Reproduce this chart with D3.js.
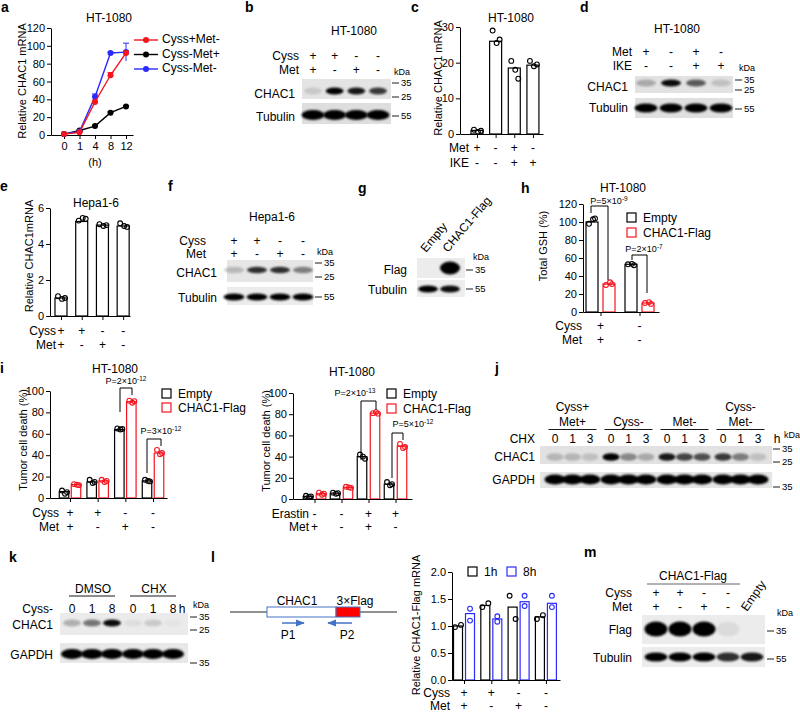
<!DOCTYPE html>
<html><head><meta charset="utf-8">
<script src="https://cdn.jsdelivr.net/npm/d3@7"></script>
<style>body{margin:0;background:#fff}svg{display:block}</style>
</head><body>
<script>
// ================= DATA =================
// a: time course
const aTimes = ["0","1","4","8","12"];
const aNames = ["Cyss+Met-","Cyss-Met+","Cyss-Met-"];
const aRed = [1, 3, 37, 67, 92];
const aRedErr = [0.5, 0.5, 2, 3, 2];
const aBlack = [1, 5, 10, 25, 32];
const aBlackErr = [0.5, 0.5, 1, 1, 1];
const aBlue = [1, 4, 43, 92, 93];
const aBlueErr = [0.5, 0.5, 3, 1, 10];
// b: blot
const bCyss = ["+","+","-","-"];
const bMet = ["+","-","+","-"];
const bCHAC1 = [0.12, 1.0, 0.9, 0.75];
const bTubulin = [1, 1, 1, 1];
// c
const cMet = ["+","-","+","-"];
const cIKE = ["-","-","+","+"];
const cMeans = [1, 26, 18.5, 19.3];
const cPts = [[1.2, 0.6, 0.9], [29, 25.5, 26.5], [20.5, 18, 15.5], [20.5, 19, 19.5]];
// d: blot
const dMet = ["+","-","+","-"];
const dIKE = ["-","-","+","+"];
const dCHAC1 = [0.25, 0.95, 0.6, 0.15];
const dTubulin = [1, 1, 1, 1];
// e
const eCyss = ["+","+","-","-"];
const eMet = ["+","-","+","-"];
const eMeans = [1.0, 5.25, 5.05, 5.0];
const ePts = [[1.1, 0.95, 1.0], [5.3, 5.45, 5.4], [5.1, 5.0, 5.05], [5.15, 5.0, 4.95]];
// f: blot
const fCyss = ["+","+","-","-"];
const fMet = ["+","-","+","-"];
const fCHAC1 = [0.2, 0.8, 0.8, 0.45];
const fTubulin = [1, 1, 1, 1];
// g: blot
const gLanes = ["Empty","CHAC1-Flag"];
const gFlag = [0, 1];
const gTubulin = [1, 0.95];
// h
const hCyss = ["+","-"];
const hMet = ["+","-"];
const hEmpty = [100, 53];
const hCHAC1 = [31, 10];
const hEmptyPts = [[98, 103, 104], [53, 53.5, 52]];
const hCHAC1Pts = [[30, 33, 31], [10, 11, 9]];
const hPBase = ["P=5×10", "P=2×10"];
const hPExp = ["-9", "-7"];
// i left
const iCyss = ["+","+","-","-"];
const iMet = ["+","-","+","-"];
const iLEmpty = [6, 15, 64, 16];
const iLCHAC1 = [12.5, 16, 90, 42];
const iLEmptyPts = [[7, 4, 5.5], [17, 14, 15], [65, 64, 64.5], [17, 16, 15.5]];
const iLCHAC1Pts = [[13, 12.5, 12], [17, 15, 16], [91, 89, 90.5], [45, 41, 42]];
const iLPBase = ["P=2×10", "P=3×10"];
const iLPExp = ["-12", "-12"];
// i right
const iErastin = ["-","-","+","+"];
const iMet2 = ["+","-","+","-"];
const iREmpty = [2.5, 5.5, 40, 14];
const iRCHAC1 = [5, 11, 81, 50];
const iREmptyPts = [[3, 2, 2.5], [6, 5, 5.5], [42, 40, 38], [16, 13, 14]];
const iRCHAC1Pts = [[6, 4, 5], [11.5, 11, 10.5], [81, 82, 80.5], [52, 48, 49]];
const iRPBase = ["P=2×10", "P=5×10"];
const iRPExp = ["-13", "-12"];
// j: blot
const jGroups = [["Cyss+","Met+"], ["Cyss-"], ["Met-"], ["Cyss-","Met-"]];
const jTimes = ["0","1","3"];
const jCHAC1 = [0.2, 0.2, 0.15, 1.0, 0.4, 0.25, 0.9, 0.7, 0.65, 0.75, 0.45, 0.15];
const jGAPDH = [1,1,1,1,1,1,1,1,1,1,1,1];
// k: blot
const kGroups = ["DMSO","CHX"];
const kTimes = ["0","1","8"];
const kCHAC1 = [0.25, 0.5, 0.95, 0.06, 0.14, 0.03];
const kGAPDH = [1, 1, 1, 1, 1, 1];
// l
const lCyss = ["+","+","-","-"];
const lMet = ["+","-","+","-"];
const l1h = [1.0, 1.38, 1.35, 1.17];
const l8h = [1.23, 1.13, 1.45, 1.42];
const l1hPts = [[0.98, 1.02], [1.35, 1.42], [1.56, 1.13], [1.13, 1.2]];
const l8hPts = [[1.32, 1.1], [1.18, 1.08], [1.56, 1.37], [1.56, 1.35]];
// m: blot
const mCyss = ["+","+","-","-"];
const mMet = ["+","-","+","-"];
const mFlag = [1, 1, 1, 0.07, 0];
const mTubulin = [1, 1, 1, 0.8, 0.9];

// ================= SETUP =================
const FONT = "'Liberation Sans', Arial, Helvetica, sans-serif";
const RED = "#f5141e", BLUE = "#2a2aff", BLK = "#000";
const svg = d3.select("body").append("svg").attr("width",800).attr("height",712)
  .attr("font-family",FONT);
const defs = svg.append("defs");
defs.append("filter").attr("id","blur").attr("x","-50%").attr("y","-150%").attr("width","200%").attr("height","400%")
  .append("feGaussianBlur").attr("stdDeviation",1.1);

function txt(x,y,s,o={}) {
  const t = svg.append("text").attr("x",x).attr("y",y).text(s)
    .attr("font-size",o.size||12).attr("text-anchor",o.anchor||"start").attr("fill",o.fill||"#000");
  if (o.weight) t.attr("font-weight",o.weight);
  if (o.rotate!=null) t.attr("transform",`rotate(${o.rotate},${x},${y})`);
  if (o.mid) t.attr("dominant-baseline","middle");
  return t;
}
function styleAx(g,size=11){
  g.selectAll("path,line").attr("stroke","#000").attr("stroke-width",1);
  g.selectAll("text").attr("font-size",size).attr("font-family",FONT).attr("fill","#000");
}
function yAxis(y,x,ticks,fmt){
  const g = svg.append("g").attr("transform",`translate(${x},0)`)
    .call(d3.axisLeft(y).tickValues(ticks).tickSize(4).tickSizeOuter(0).tickPadding(2).tickFormat(fmt||d3.format("d")));
  styleAx(g);
}
function xAxis(xs,y0,ticks,fmt){
  const g = svg.append("g").attr("transform",`translate(0,${y0})`)
    .call(d3.axisBottom(xs).tickValues(ticks).tickSize(4).tickSizeOuter(0).tickPadding(3).tickFormat(fmt||""));
  styleAx(g);
}
function bars(vals,xf,y,w,color){
  svg.append("g").selectAll("rect").data(vals).join("rect")
    .attr("x",(d,i)=>xf(i)-w/2).attr("y",d=>y(d)).attr("width",w).attr("height",d=>y(0)-y(d))
    .attr("fill","#fff").attr("stroke",color).attr("stroke-width",1.2);
}
function points(pts,xf,y,color,offs){
  const flat = pts.flatMap((arr,i)=>arr.map((v,j)=>({i,j,v})));
  svg.append("g").selectAll("circle").data(flat).join("circle")
    .attr("cx",d=>xf(d.i)+offs[d.j%offs.length]).attr("cy",d=>y(d.v)).attr("r",2.4)
    .attr("fill","none").attr("stroke",color).attr("stroke-width",1.1);
}
function signRow(label,signs,xf,y,labelX,size=12){
  txt(labelX,y,label,{anchor:"end",size});
  svg.append("g").selectAll("text").data(signs).join("text")
    .attr("x",(d,i)=>xf(i)).attr("y",y).attr("text-anchor","middle").attr("font-size",size).text(d=>d);
}
function strip(x0,y0,x1,y1,xf,yc,vals,rx,ry,bg){
  const g = svg.append("g");
  g.append("rect").attr("x",x0).attr("y",y0).attr("width",x1-x0).attr("height",y1-y0).attr("fill",bg||"#e3e3e3");
  g.selectAll("ellipse").data(vals).join("ellipse")
    .attr("cx",(d,i)=>xf(i)).attr("cy",yc).attr("rx",rx).attr("ry",ry)
    .attr("fill","#060606").attr("fill-opacity",d=>d).attr("filter","url(#blur)");
}
function marker(x,y,label,len=7){
  svg.append("line").attr("x1",x).attr("x2",x+len).attr("y1",y).attr("y2",y).attr("stroke","#000").attr("stroke-width",0.9);
  txt(x+len+2,y,label,{size:9.5,mid:true});
}
function bracket(xL,xR,yTop,yLb,yRb,base,exp,tx,ty){
  svg.append("path").attr("d",`M${xL},${yLb}V${yTop}H${xR}V${yRb}`)
    .attr("fill","none").attr("stroke","#000").attr("stroke-width",1);
  const t = svg.append("text").attr("x",tx).attr("y",ty).attr("text-anchor","middle").attr("font-size",9);
  t.append("tspan").text(base);
  t.append("tspan").attr("dy",-3.5).attr("font-size",6.5).text(exp);
}
function legendBox(x,y,color,label){
  svg.append("rect").attr("x",x).attr("y",y).attr("width",9).attr("height",9)
    .attr("fill","#fff").attr("stroke",color).attr("stroke-width",1.2);
  txt(x+16,y+9,label,{size:12});
}

// panel letters
[["a",1,12],["b",245,12],["c",411,12],["d",580,12],["e",0,191],["f",168,191],["g",358,193],
 ["h",521,193],["i",0,373],["j",495,373],["k",9,562],["l",211,562],["m",584,557]]
 .forEach(([s,x,y])=>txt(x,y,s,{size:14,weight:"bold"}));

// ================= a =================
{
  const x = d3.scaleLinear().domain([-0.84,4.45]).range([51,133]);
  const y = d3.scaleLinear().domain([0,120]).range([135,28]);
  txt(109,22,"HT-1080",{anchor:"middle"});
  yAxis(y,51,d3.range(0,121,20));
  xAxis(x,135,[0,1,2,3,4],i=>aTimes[i]);
  txt(95,166,"(h)",{anchor:"middle",size:11});
  txt(26,81,"Relative CHAC1 mRNA",{anchor:"middle",size:11,rotate:-90});
  const series = [{v:aBlack,e:aBlackErr,c:BLK},{v:aBlue,e:aBlueErr,c:BLUE},{v:aRed,e:aRedErr,c:RED}];
  const line = d3.line().x((d,i)=>x(i)).y(d=>y(d));
  series.forEach(s=>{
    const g = svg.append("g");
    g.selectAll("line.err").data(s.v).join("line").attr("class","err")
      .attr("x1",(d,i)=>x(i)).attr("x2",(d,i)=>x(i))
      .attr("y1",(d,i)=>y(d-s.e[i])).attr("y2",(d,i)=>y(d+s.e[i])).attr("stroke",s.c).attr("stroke-width",1);
    g.selectAll("line.cap").data(s.v).join("line").attr("class","cap")
      .attr("x1",(d,i)=>x(i)-3).attr("x2",(d,i)=>x(i)+3)
      .attr("y1",(d,i)=>y(d+s.e[i])).attr("y2",(d,i)=>y(d+s.e[i])).attr("stroke",s.c).attr("stroke-width",1);
    g.append("path").attr("d",line(s.v)).attr("fill","none").attr("stroke",s.c).attr("stroke-width",1.4);
    g.selectAll("circle").data(s.v).join("circle").attr("cx",(d,i)=>x(i)).attr("cy",d=>y(d)).attr("r",3).attr("fill",s.c);
  });
  const lg = [{n:aNames[0],c:RED},{n:aNames[1],c:BLK},{n:aNames[2],c:BLUE}];
  lg.forEach((d,i)=>{
    const yy = 40+i*14.5;
    svg.append("line").attr("x1",134).attr("x2",158).attr("y1",yy).attr("y2",yy).attr("stroke",d.c).attr("stroke-width",1.4);
    svg.append("circle").attr("cx",146).attr("cy",yy).attr("r",3).attr("fill",d.c);
    txt(162,yy,d.n,{size:12,mid:true});
  });
}

// ================= b =================
{
  const lx = d3.scalePoint().domain(d3.range(4)).range([313,378]);
  txt(354,35,"HT-1080",{anchor:"middle"});
  signRow("Cyss",bCyss,lx,60,299);
  signRow("Met",bMet,lx,74,299);
  strip(302,79,391,99,lx,91,bCHAC1,9,3.5,"#e4e4e4");
  strip(302,103,391,124,lx,115,bTubulin,11.5,5,"#dedede");
  txt(295,98,"CHAC1",{anchor:"end"});
  txt(295,121,"Tubulin",{anchor:"end"});
  txt(394,75,"kDa",{size:9});
  marker(392,83,"35"); marker(392,97,"25"); marker(392,116,"55");
}

// ================= c =================
{
  const x = d3.scaleLinear().domain([-0.91,3.54]).range([460,543]);
  const y = d3.scaleLinear().domain([0,30]).range([134,27]);
  txt(511,22,"HT-1080",{anchor:"middle"});
  bars(cMeans,x,y,12,BLK);
  points(cPts,x,y,BLK,[-3,1,4]);
  yAxis(y,460,[0,10,20,30]);
  xAxis(x,134,[0,1,2,3]);
  txt(442,78,"Relative CHAC1 mRNA",{anchor:"middle",size:11,rotate:-90});
  signRow("Met",cMet,x,152,469);
  signRow("IKE",cIKE,x,167,469);
}

// ================= d =================
{
  const lx = d3.scalePoint().domain(d3.range(4)).range([646,721]);
  txt(677,33,"HT-1080",{anchor:"middle"});
  signRow("Met",dMet,lx,56,632);
  signRow("IKE",dIKE,lx,70,632);
  strip(635,76,733,93,lx,83,dCHAC1,10,3.5,"#e2e2e2");
  strip(635,98,733,118,lx,108,dTubulin,11.5,4.5,"#e0e0e0");
  txt(628,91,"CHAC1",{anchor:"end"});
  txt(628,112,"Tubulin",{anchor:"end"});
  txt(739,71,"kDa",{size:9});
  marker(735,80,"35"); marker(735,90,"25"); marker(735,109,"55");
}

// ================= e =================
{
  const x = d3.scaleLinear().domain([-0.53,3.33]).range([50,130]);
  const y = d3.scaleLinear().domain([0,6]).range([316,208]);
  txt(96,207,"Hepa1-6",{anchor:"middle"});
  bars(eMeans,x,y,12,BLK);
  points(ePts,x,y,BLK,[-3,1,4]);
  yAxis(y,50,[0,2,4,6]);
  xAxis(x,316,[0,1,2,3]);
  txt(33,256,"Relative CHAC1mRNA",{anchor:"middle",size:11,rotate:-90});
  signRow("Cyss",eCyss,x,335,56);
  signRow("Met",eMet,x,349,56);
}

// ================= f =================
{
  const lx = d3.scalePoint().domain(d3.range(4)).range([234,303]);
  txt(272,221,"Hepa1-6",{anchor:"middle"});
  signRow("Cyss",fCyss,lx,245,206);
  signRow("Met",fMet,lx,258,206);
  strip(227,260,313,282,lx,270,fCHAC1,10,3.2,"#e6e6e6");
  strip(227,287,313,305,lx,297,fTubulin,10.5,3.5,"#ececec");
  txt(217,277,"CHAC1",{anchor:"end"});
  txt(217,302,"Tubulin",{anchor:"end"});
  txt(317,255,"kDa",{size:9});
  marker(315,263,"35"); marker(315,277,"25"); marker(315,297,"55");
}

// ================= g =================
{
  const lx = d3.scalePoint().domain(d3.range(2)).range([428,450]);
  gLanes.forEach((s,i)=>txt(lx(i)-2,253,s,{size:12,rotate:-50}));
  strip(417,258,465,278,lx,268,gFlag,10,6.5,"#ececec");
  strip(417,280,465,297,lx,289,gTubulin,10,3.5,"#eeeeee");
  txt(407,274,"Flag",{anchor:"end"});
  txt(407,294,"Tubulin",{anchor:"end"});
  txt(473,260,"kDa",{size:9});
  marker(466,270,"35"); marker(466,289,"55");
}

// ================= h =================
{
  const gx = d3.scaleLinear().domain([-0.449,1.5]).range([583,659]);
  const y = d3.scaleLinear().domain([0,120]).range([312,204]);
  const xe = i=>gx(i)-8.5, xc = i=>gx(i)+8.5;
  txt(623,192,"HT-1080",{anchor:"middle"});
  bars(hEmpty,xe,y,12,BLK);
  bars(hCHAC1,xc,y,12,RED);
  points(hEmptyPts,xe,y,BLK,[-3,1,3]);
  points(hCHAC1Pts,xc,y,RED,[-3,1,3]);
  yAxis(y,583,d3.range(0,121,20));
  xAxis(gx,312,[0,1]);
  txt(547,246,"Total GSH (%)",{anchor:"middle",size:11,rotate:-90});
  signRow("Cyss",hCyss,gx,330,582);
  signRow("Met",hMet,gx,344,582);
  legendBox(627,213,BLK,"Empty");
  legendBox(627,228,RED,"CHAC1-Flag");
  bracket(591,608,206,213,280,hPBase[0],hPExp[0],609,204);
  bracket(632,647,255,260,293,hPBase[1],hPExp[1],644,252);
}

// ================= i left =================
{
  const gx = d3.scaleLinear().domain([-0.723,3.506]).range([50,167]);
  const y = d3.scaleLinear().domain([0,100]).range([498,391]);
  const xe = i=>gx(i)-6, xc = i=>gx(i)+6;
  txt(115,373,"HT-1080",{anchor:"middle"});
  bars(iLEmpty,xe,y,9.5,BLK);
  bars(iLCHAC1,xc,y,9.5,RED);
  points(iLEmptyPts,xe,y,BLK,[-2,1,3]);
  points(iLCHAC1Pts,xc,y,RED,[-2,1,3]);
  yAxis(y,50,d3.range(0,101,20));
  xAxis(gx,498,[0,1,2,3]);
  txt(27,440,"Tumor cell death (%)",{anchor:"middle",size:11,rotate:-90});
  signRow("Cyss",iCyss,gx,517,59);
  signRow("Met",iMet,gx,531,59);
  legendBox(162,389,BLK,"Empty");
  legendBox(162,403,RED,"CHAC1-Flag");
  bracket(120,132,388,412,395,iLPBase[0],iLPExp[0],126,384);
  bracket(147,161,439,473,446,iLPBase[1],iLPExp[1],161,434);
}

// ================= i right =================
{
  const gx = d3.scaleLinear().domain([-0.796,3.611]).range([293,412]);
  const y = d3.scaleLinear().domain([0,100]).range([499,393]);
  const xe = i=>gx(i)-6.5, xc = i=>gx(i)+6.5;
  txt(352,376,"HT-1080",{anchor:"middle"});
  bars(iREmpty,xe,y,9.5,BLK);
  bars(iRCHAC1,xc,y,9.5,RED);
  points(iREmptyPts,xe,y,BLK,[-2,1,3]);
  points(iRCHAC1Pts,xc,y,RED,[-2,1,3]);
  yAxis(y,293,d3.range(0,101,20));
  xAxis(gx,499,[0,1,2,3]);
  txt(270,441,"Tumor cell death (%)",{anchor:"middle",size:11,rotate:-90});
  signRow("Erastin",iErastin,gx,518,309);
  signRow("Met",iMet2,gx,531,309);
  legendBox(387,389,BLK,"Empty");
  legendBox(387,404,RED,"CHAC1-Flag");
  bracket(361,376,401,460,410,iRPBase[0],iRPExp[0],355,396);
  bracket(392,403,433,478,440,iRPBase[1],iRPExp[1],413,427);
}

// ================= j =================
{
  const gs = d3.scaleLinear().domain([0,3]).range([555,723]);
  const lx = i=>gs(Math.floor(i/3))+17.5*(i%3);
  jGroups.forEach((lines,g)=>{
    const cx = gs(g)+17.5;
    if (lines.length===2){ txt(cx,411,lines[0],{anchor:"middle"}); txt(cx,426,lines[1],{anchor:"middle"}); }
    else txt(cx,426,lines[0],{anchor:"middle"});
    svg.append("line").attr("x1",cx-24).attr("x2",cx+24).attr("y1",429.5).attr("y2",429.5).attr("stroke","#000").attr("stroke-width",0.9);
  });
  txt(535,443,"CHX",{anchor:"end"});
  svg.append("g").selectAll("text").data(d3.range(12)).join("text")
    .attr("x",i=>lx(i)).attr("y",443).attr("text-anchor","middle").attr("font-size",12).text(i=>jTimes[i%3]);
  txt(777,443,"h",{anchor:"middle"});
  txt(784,438,"kDa",{size:9});
  strip(540,446,772,464,lx,457,jCHAC1,8.5,3.8,"#e2e2e2");
  strip(540,472,772,488,lx,479.5,jGAPDH,10.5,5,"#e6e6e6");
  txt(535,461,"CHAC1",{anchor:"end"});
  txt(535,484,"GAPDH",{anchor:"end"});
  marker(773,449,"35"); marker(773,462,"25"); marker(773,487,"35");
}

// ================= k =================
{
  const gs = d3.scaleLinear().domain([0,1]).range([72,133]);
  const lx = i=>gs(Math.floor(i/3))+20*(i%3);
  kGroups.forEach((s,g)=>{
    const cx = gs(g)+20;
    txt(cx+1,593,s,{anchor:"middle"});
    svg.append("line").attr("x1",cx-23).attr("x2",cx+23).attr("y1",596).attr("y2",596).attr("stroke","#000").attr("stroke-width",0.9);
  });
  txt(53,613,"Cyss-",{anchor:"end"});
  svg.append("g").selectAll("text").data(d3.range(6)).join("text")
    .attr("x",i=>lx(i)).attr("y",613).attr("text-anchor","middle").attr("font-size",12).text(i=>kTimes[i%3]);
  txt(182,613,"h",{anchor:"middle"});
  txt(193,608,"kDa",{size:9});
  strip(60,613,188,635,lx,623,kCHAC1,9,3.5,"#ebebeb");
  strip(60,643,188,663,lx,654,kGAPDH,11,5,"#e8e8e8");
  txt(53,629,"CHAC1",{anchor:"end"});
  txt(53,659,"GAPDH",{anchor:"end"});
  marker(190,617,"35"); marker(190,630,"25"); marker(190,663,"35");
}

// ================= l diagram =================
{
  const DBLUE = "#4472c4";
  svg.append("line").attr("x1",230).attr("x2",397).attr("y1",612).attr("y2",612).attr("stroke","#222").attr("stroke-width",1);
  svg.append("rect").attr("x",267).attr("y",607).attr("width",69).attr("height",10).attr("fill","#fff").attr("stroke",DBLUE).attr("stroke-width",1);
  svg.append("rect").attr("x",336).attr("y",607).attr("width",24).attr("height",10).attr("fill","#ff0000").attr("stroke",DBLUE).attr("stroke-width",1);
  txt(297,605,"CHAC1",{anchor:"middle"});
  txt(355,605,"3×Flag",{anchor:"middle"});
  const mk = defs.append("marker").attr("id","ah").attr("viewBox","0 0 10 10").attr("refX",9).attr("refY",5)
    .attr("markerWidth",6).attr("markerHeight",6).attr("orient","auto-start-reverse");
  mk.append("path").attr("d","M0,1L10,5L0,9z").attr("fill",DBLUE);
  svg.append("line").attr("x1",282).attr("x2",304).attr("y1",623).attr("y2",623).attr("stroke",DBLUE).attr("stroke-width",1.5).attr("marker-end","url(#ah)");
  svg.append("line").attr("x1",352).attr("x2",328).attr("y1",623).attr("y2",623).attr("stroke",DBLUE).attr("stroke-width",1.5).attr("marker-end","url(#ah)");
  txt(288,639,"P1",{anchor:"middle"});
  txt(347,639,"P2",{anchor:"middle"});
}

// ================= l chart =================
{
  const gx = d3.scaleLinear().domain([-0.44,3.516]).range([452,560]);
  const y = d3.scaleLinear().domain([0,2]).range([680,572]);
  const x1 = i=>gx(i)-6, x8 = i=>gx(i)+6;
  bars(l1h,x1,y,9,BLK);
  bars(l8h,x8,y,9,BLUE);
  points(l1hPts,x1,y,BLK,[-3,3]);
  points(l8hPts,x8,y,BLUE,[0,0]);
  yAxis(y,452,[0,0.5,1,1.5,2],d3.format(".1f"));
  xAxis(gx,680,[0,1,2,3]);
  txt(420,625,"Relative CHAC1-Flag mRNA",{anchor:"middle",size:11,rotate:-90});
  signRow("Cyss",lCyss,gx,697,450);
  signRow("Met",lMet,gx,710,450);
  legendBox(468,567,BLK,"1h");
  legendBox(507,567,BLUE,"8h");
}

// ================= m =================
{
  const lx = d3.scalePoint().domain(d3.range(5)).range([656,752]);
  txt(693,580,"CHAC1-Flag",{anchor:"middle"});
  svg.append("line").attr("x1",647).attr("x2",740).attr("y1",584).attr("y2",584).attr("stroke","#666").attr("stroke-width",1);
  signRow("Cyss",mCyss,lx,597,632);
  signRow("Met",mMet,lx,611,632);
  txt(747,612,"Empty",{size:12,rotate:-55});
  txt(777,616,"kDa",{size:9});
  strip(642,615,765,644,lx,629,mFlag,11.5,7.5,"#ececec");
  strip(642,647,765,667,lx,657,mTubulin,11.5,4.5,"#ececec");
  txt(632,634,"Flag",{anchor:"end"});
  txt(632,662,"Tubulin",{anchor:"end"});
  marker(767,631,"35"); marker(767,659,"55");
}
</script>
</body></html>
